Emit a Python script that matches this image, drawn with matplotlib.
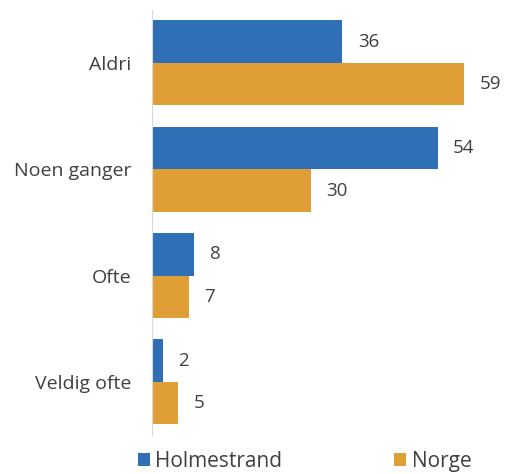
import numpy as np
import matplotlib.pyplot as plt

categories = ['Aldri', 'Noen ganger', 'Ofte', 'Veldig ofte']
holmestrand = [36, 54, 8, 2]
norge = [59, 30, 7, 5]

plt.rcParams['font.family'] = ['Open Sans', 'DejaVu Sans']
blue = '#2e6fb5' ; orange = '#e09f36' ; txt = '#404040'

fig = plt.figure(figsize=(5.05, 4.74), dpi=100)
ax = fig.add_axes([0.301, 0.0823, 0.681, 0.897])
y = np.arange(len(categories))
h = 0.4
b1 = ax.barh(y - h/2, holmestrand, height=h, color=blue, label='Holmestrand')
b2 = ax.barh(y + h/2, norge, height=h, color=orange, label='Norge')
for bars in (b1, b2):
    for r in bars:
        ax.annotate(str(int(r.get_width())), (r.get_width(), r.get_y() + r.get_height()/2),
                    xytext=(11, 0), textcoords='offset points', va='center', ha='left',
                    fontsize=13.5, color=txt)
ax.set_xlim(0, 65) ; ax.set_ylim(3.5, -0.5)
ax.set_yticks(y) ; ax.set_yticklabels(categories, fontsize=14, color=txt)
ax.tick_params(axis='y', length=0, pad=15)
ax.set_xticks([])
for s in ('top', 'right', 'bottom'):
    ax.spines[s].set_visible(False)
ax.spines['left'].set_color('#d9d9d9')
fig.legend(loc='center', bbox_to_anchor=(0.603, 0.026), ncol=2, frameon=False, fontsize=15,
           handlelength=0.6, handleheight=0.6, handletextpad=0.25, columnspacing=5.35,
           labelcolor=txt)
fig.savefig('out.png', dpi=100)
